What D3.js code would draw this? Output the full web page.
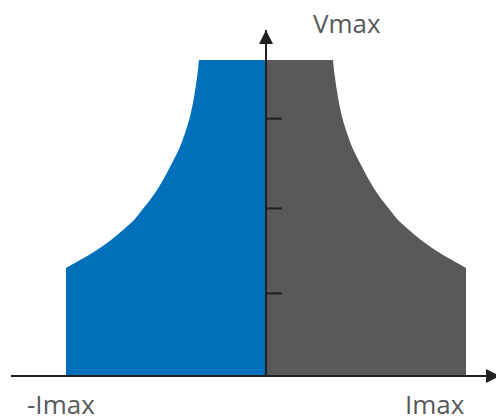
<!DOCTYPE html>
<html>
<head>
<meta charset="utf-8">
<script src="https://cdn.jsdelivr.net/npm/d3@7"></script>
<style>
  html, body { margin: 0; padding: 0; background: #fff; }
  svg { display: block; }
</style>
</head>
<body>
<div id="chart"></div>
<script>
// constant power curve of the positive quadrant, as a fraction of Imax / Vmax
const current = [0.335, 0.343, 0.358, 0.378, 0.392, 0.408, 0.437, 0.475, 0.515, 0.545, 0.58, 0.62,
                 0.66, 0.715, 0.775, 0.845, 0.93, 1.0];
const voltage = [1.0, 0.953, 0.889, 0.826, 0.794, 0.763, 0.715, 0.668, 0.620, 0.589, 0.557, 0.525,
                 0.494, 0.462, 0.430, 0.399, 0.367, 0.342];
const voltageTicks = [0.263, 0.532, 0.816];
const axisLabels = { vmax: "Vmax", imax: "Imax", imin: "-Imax" };

const width = 496, height = 418;
const colors = { source: "#0070bb", sink: "#58595b", axis: "#231f20", text: "#58595b" };

const x = d3.scaleLinear().domain([-1, 1]).range([66, 466]);
const y = d3.scaleLinear().domain([0, 1]).range([376, 60]);

const svg = d3.select("#chart").append("svg")
  .attr("width", width)
  .attr("height", height)
  .attr("viewBox", [0, 0, width, height]);

const points = current.map((c, i) => ({ i: c, v: voltage[i] }));

// one half of the envelope: flat top, curve, vertical side, back along the axes
function halfPath(sign) {
  const curve = d3.line()
    .x(d => x(sign * d.i))
    .y(d => y(d.v))
    .curve(d3.curveCatmullRom)(points);
  const last = points[points.length - 1];
  return `M${x(0)},${y(1)}L` + curve.slice(1) +
    `L${x(sign * last.i)},${y(0)}L${x(0)},${y(0)}Z`;
}

svg.append("path").attr("d", halfPath(-1)).attr("fill", colors.source);
svg.append("path").attr("d", halfPath(1)).attr("fill", colors.sink);

// arrow heads
svg.append("defs").append("marker")
  .attr("id", "arrow")
  .attr("viewBox", "0 0 10 10")
  .attr("refX", 10).attr("refY", 5)
  .attr("markerWidth", 7).attr("markerHeight", 7)
  .attr("markerUnits", "strokeWidth")
  .attr("orient", "auto")
  .append("path")
  .attr("d", "M0,0L10,5L0,10Z")
  .attr("fill", colors.axis);

// horizontal axis
svg.append("line")
  .attr("x1", 11).attr("x2", width + 4)
  .attr("y1", y(0)).attr("y2", y(0))
  .attr("stroke", colors.axis)
  .attr("stroke-width", 2)
  .attr("marker-end", "url(#arrow)");

// vertical axis with ticks on the right
svg.append("g")
  .attr("transform", `translate(${x(0)},0)`)
  .call(d3.axisRight(y).tickValues(voltageTicks).tickSize(16).tickFormat(""))
  .call(g => g.select(".domain").remove())
  .call(g => g.selectAll(".tick line").attr("stroke", colors.axis).attr("stroke-width", 2));

svg.append("line")
  .attr("x1", x(0)).attr("x2", x(0))
  .attr("y1", y(0)).attr("y2", 30)
  .attr("stroke", colors.axis)
  .attr("stroke-width", 2)
  .attr("marker-end", "url(#arrow)");

const label = (tx, ty, t) => svg.append("text")
  .attr("x", tx).attr("y", ty)
  .attr("font-family", "'Open Sans', 'Noto Sans', sans-serif")
  .attr("font-size", 26)
  .attr("fill", colors.text)
  .text(t);

label(313, 33, axisLabels.vmax);
label(405, 414, axisLabels.imax);
label(27, 414, axisLabels.imin);
</script>
</body>
</html>
